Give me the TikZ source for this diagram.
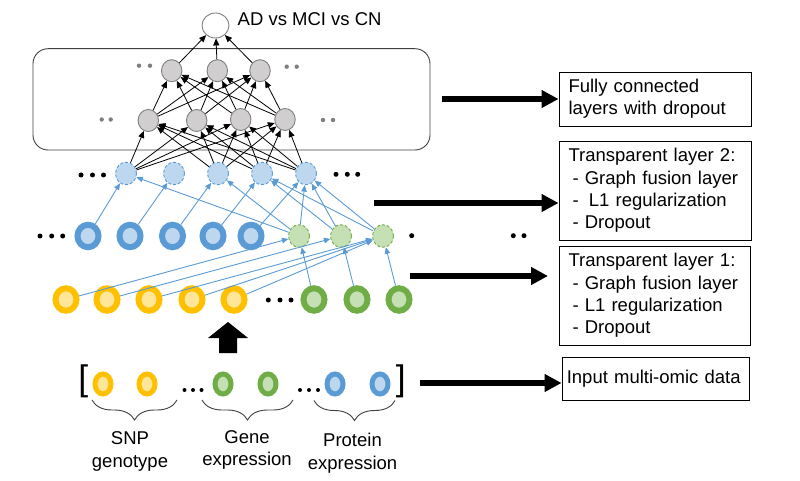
\documentclass[tikz,border=0pt]{standalone}
\usepackage{fontspec}
\setmainfont{Liberation Sans}
\usetikzlibrary{arrows.meta,shapes.geometric,decorations.pathreplacing}
\definecolor{cYel}{HTML}{FFC000}
\definecolor{cYelL}{HTML}{FFE699}
\definecolor{cGrn}{HTML}{70AD47}
\definecolor{cGrnL}{HTML}{C5E0B4}
\definecolor{cBlu}{HTML}{5B9BD5}
\definecolor{cBluL}{HTML}{BDD7EE}
\definecolor{cGry}{HTML}{D0CECE}
\definecolor{cGryD}{HTML}{7F7F7F}
\definecolor{cDark}{HTML}{404040}
\begin{document}
\begin{tikzpicture}[x=1pt,y=-1pt,
  every node/.style={font=\fontsize{18.5}{22.3}\selectfont},
  ringbig/.style={ellipse, inner sep=0pt, minimum width=21pt, minimum height=22.5pt, line width=6pt},
  ringsm/.style={ellipse, inner sep=0pt, minimum width=16pt, minimum height=20pt, line width=5pt},
  yring/.style={draw=cYel, fill=cYelL},
  gring/.style={draw=cGrn, fill=cGrnL},
  bring/.style={draw=cBlu, fill=cBluL},
  dnode/.style={ellipse, inner sep=0pt, minimum width=21pt, minimum height=22.5pt, line width=0.9pt, dash pattern=on 3pt off 2pt},
  gnode/.style={ellipse, inner sep=0pt, minimum width=20.5pt, minimum height=22pt, line width=0.9pt, draw=cGryD, fill=cGry},
  onode/.style={ellipse, inner sep=0pt, minimum width=27pt, minimum height=25pt, line width=0.9pt, draw=cGryD, fill=white},
  fc/.style={draw=black, line width=0.8pt, -{Triangle[length=7pt,width=6pt]}},
  bl/.style={draw=cBlu, line width=0.9pt, -{Triangle[length=6.5pt,width=5.5pt]}},
  big/.style={draw=black, line width=6pt, -{Triangle[length=17pt,width=17pt]}},
  infobox/.style={draw=black, line width=0.9pt, align=left, inner ysep=0pt},
  lab/.style={anchor=north, inner sep=0pt, align=center},
  bdot/.style={fill=black},
  gdot/.style={fill=cGryD},
  brc/.style={draw=cDark, line width=0.9pt, decorate, decoration={brace, mirror, amplitude=20pt}}
]
\useasboundingbox (0,0) rectangle (800,481);

% rounded box around fully connected layers
\draw[cDark, line width=0.9pt, rounded corners=15pt] (33,48.7) rectangle (430,150);

% output
\node[onode] (o) at (215.5,25.5) {};
\node[anchor=base west, inner sep=0pt] (otext) at (237.5,26) {AD vs MCI vs CN};

% hidden layer 2
\node[gnode] (a1) at (171.7,70.7) {};
\node[gnode] (a2) at (217.3,70.7) {};
\node[gnode] (a3) at (260,70.7) {};
% hidden layer 1
\node[gnode] (b1) at (148.3,120.5) {};
\node[gnode] (b2) at (196.7,120.5) {};
\node[gnode] (b3) at (240.7,119.5) {};
\node[gnode] (b4) at (285,119.5) {};

% transparent layer 2 (dashed blue)
\node[dnode, draw=cBlu, fill=cBluL] (d1) at (126,173.5) {};
\node[dnode, draw=cBlu, fill=cBluL] (d2) at (174,173.5) {};
\node[dnode, draw=cBlu, fill=cBluL] (d3) at (218,173.5) {};
\node[dnode, draw=cBlu, fill=cBluL] (d4) at (262,173.5) {};
\node[dnode, draw=cBlu, fill=cBluL] (d5) at (306,173.5) {};

% blue rings and green dashed
\node[ringbig, bring] (r1) at (88,236) {};
\node[ringbig, bring] (r2) at (130,236) {};
\node[ringbig, bring] (r3) at (172.5,236) {};
\node[ringbig, bring] (r4) at (213,236) {};
\node[ringbig, bring] (r5) at (251,236) {};
\node[dnode, draw=cGrn, fill=cGrnL] (g1) at (299,236) {};
\node[dnode, draw=cGrn, fill=cGrnL] (g2) at (341,236) {};
\node[dnode, draw=cGrn, fill=cGrnL] (g3) at (383,236) {};

% yellow and green rings
\node[ringbig, yring] (y1) at (66,299.5) {};
\node[ringbig, yring] (y2) at (107,299.5) {};
\node[ringbig, yring] (y3) at (149,299.5) {};
\node[ringbig, yring] (y4) at (192,299.5) {};
\node[ringbig, yring] (y5) at (234,299.5) {};
\node[ringbig, gring] (G1) at (314,299.5) {};
\node[ringbig, gring] (G2) at (357,299.5) {};
\node[ringbig, gring] (G3) at (399,299.5) {};

% fully connected arrows
\foreach \d in {d1,d3,d4,d5} {\foreach \b in {b1,b2,b3,b4} {\draw[fc] (\d) -- (\b);}}
\foreach \b in {b1,b2,b3,b4} {\foreach \a in {a1,a2,a3} {\draw[fc] (\b) -- (\a);}}
\foreach \a in {a1,a2,a3} {\draw[fc] (\a) -- (o);}

% transparent layer 2 connections
\foreach \i in {1,...,5} {\draw[bl] (r\i) -- (d\i);}
\draw[bl] (g1) -- (d1);
\draw[bl] (g1) -- (d3);
\draw[bl] (g1) -- (d5);
\draw[bl] (g2) -- (d4);
\draw[bl] (g2) -- (d5);
\draw[bl] (g3) -- (d4);
\draw[bl] (g3) -- (d5);

% transparent layer 1 connections
\draw[bl] (y1) -- (g1);
\draw[bl] (y2) -- (g2);
\draw[bl] (y3) -- (g3);
\draw[bl] (y4) -- (g3);
\draw[bl] (y5) -- (g3);
\draw[bl] (G1) -- (g1);
\draw[bl] (G2) -- (g2);
\draw[bl] (G3) -- (g3);

% dots
\foreach \x in {139,150} {\fill[gdot] (\x,65.7) circle (2.2pt);}
\foreach \x in {286.7,296.7} {\fill[gdot] (\x,66.7) circle (2.2pt);}
\foreach \x in {101.7,110.7} {\fill[gdot] (\x,119.5) circle (2.2pt);}
\foreach \x in {323,333} {\fill[gdot] (\x,120) circle (2.2pt);}
\foreach \x in {81,92.5,103.5} {\fill[bdot] (\x,175) circle (2.5pt);}
\foreach \x in {336,347.3,357.7} {\fill[bdot] (\x,174.3) circle (2.5pt);}
\foreach \x in {40,51.7,62.7} {\fill[bdot] (\x,236) circle (2.5pt);}
\foreach \x in {411.7,513.3,524} {\fill[bdot] (\x,235.7) circle (2.5pt);}
\foreach \x in {268.3,280,291} {\fill[bdot] (\x,300) circle (2.5pt);}
\foreach \x in {184.5,193,201.5} {\fill[bdot] (\x,390) circle (2pt);}
\foreach \x in {300,309,318} {\fill[bdot] (\x,390) circle (2pt);}

% up block arrow
\fill[black] (228,322) -- (248,338) -- (237,338) -- (237,353) -- (219,353) -- (219,338) -- (208,338) -- cycle;

% input row
\node[inner sep=0pt, font=\fontsize{35.5}{36}\selectfont] (lbr) at (83.3,381.7) {[};
\node[inner sep=0pt, font=\fontsize{35.5}{36}\selectfont] (rbr) at (400.8,381.7) {]};
\node[ringsm, yring] (p1) at (103,384) {};
\node[ringsm, yring] (p2) at (147,384) {};
\node[ringsm, gring] (q1) at (223,384) {};
\node[ringsm, gring] (q2) at (268,384) {};
\node[ringsm, bring] (s1) at (335,384) {};
\node[ringsm, bring] (s2) at (380,384) {};

% braces
\coordinate (br1a) at (92,400); \coordinate (br1b) at (177,400);
\coordinate (br2a) at (202,400); \coordinate (br2b) at (293,400);
\coordinate (br3a) at (314,400.5); \coordinate (br3b) at (395,400.5);
\draw[brc] (br1a) -- (br1b);
\draw[brc] (br2a) -- (br2b);
\draw[brc] (br3a) -- (br3b);

\node[lab] (snp) at (130,431.7) {SNP\\genotype};
\node[lab] (gene) at (247,430) {Gene\\expression};
\node[lab] (prot) at (352.5,433.3) {Protein\\expression};

% info boxes
\node[infobox, inner xsep=9.5pt, text width=173pt, minimum height=54pt] (box1) at (655,99) {Fully connected\\layers with dropout};
\node[infobox, inner xsep=9.5pt, text width=173pt, minimum height=99pt] (box2) at (655,190.5) {Transparent layer 2:\\\hspace*{4pt}- Graph fusion layer\\\hspace*{4pt}-\hspace*{10.3pt}L1 regularization\\\hspace*{4pt}- Dropout};
\node[infobox, inner xsep=9.5pt, text width=172pt, minimum height=99pt] (box3) at (654.5,295.5) {Transparent layer 1:\\\hspace*{4pt}- Graph fusion layer\\\hspace*{4pt}- L1 regularization\\\hspace*{4pt}- Dropout};
\node[infobox, inner xsep=4.8pt, text width=177.4pt, minimum height=43pt] (box4) at (655.5,378.5) {Input multi-omic data};

% big arrows
\coordinate (s1a) at (442,99);
\coordinate (s2a) at (374,203);
\coordinate (s3a) at (410,276);
\coordinate (e3a) at (548,276);
\coordinate (s4a) at (420,383);
\draw[big] (s1a) -- (s1a -| box1.west);
\draw[big] (s2a) -- (s2a -| box2.west);
\draw[big] (s3a) -- (e3a);
\draw[big] (s4a) -- (s4a -| box4.west);
\end{tikzpicture}
\end{document}
